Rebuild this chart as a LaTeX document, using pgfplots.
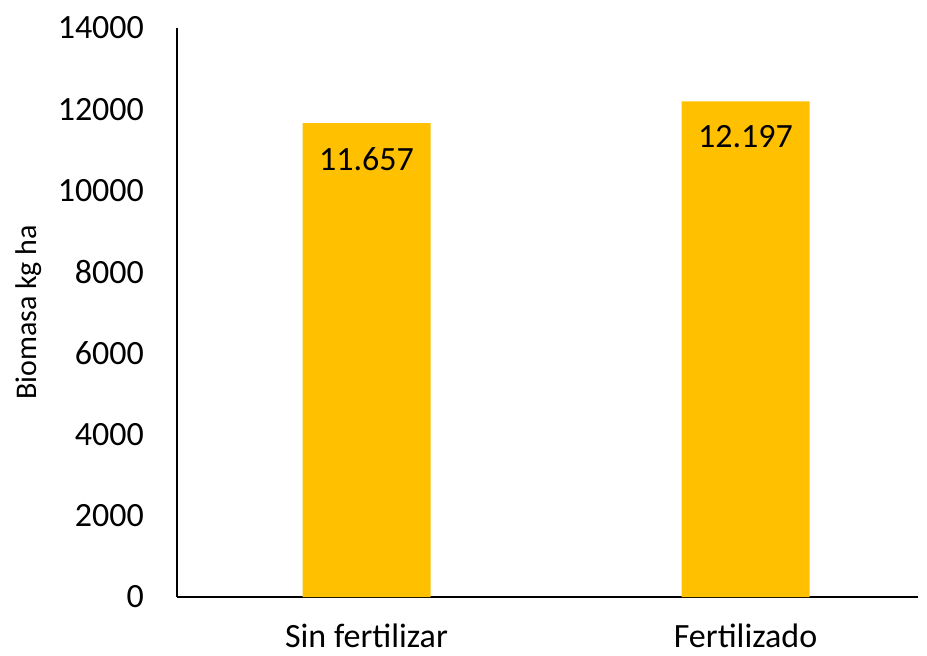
\documentclass[border=0pt]{standalone}
\usepackage{pgfplots}
\pgfplotsset{compat=1.18}
\usepackage{fontspec}
\setmainfont{Carlito}
\definecolor{baryellow}{RGB}{255,192,0}

\begin{document}
\begin{tikzpicture}
\begin{axis}[
  width=370.5pt, height=284.5pt, scale only axis,
  ymin=0, ymax=14000,
  ytick={0,2000,4000,6000,8000,10000,12000,14000},
  xmin=-0.5, xmax=1.455,
  xtick={0,1}, xticklabels={Sin fertilizar,Fertilizado},
  axis x line*=bottom, axis y line*=left,
  axis line style={line width=0.9pt},
  major tick length=0pt,
  tick label style={font=\fontsize{17}{19}\selectfont},
  /pgf/number format/assume math mode=true,
  scaled y ticks=false,
  yticklabel style={/pgf/number format/fixed, /pgf/number format/set thousands separator={}, xshift=-13pt},
  xticklabel style={yshift=-10pt},
  ylabel={Biomasa kg ha},
  ylabel style={font=\fontsize{15}{17}\selectfont, yshift=1pt},
  clip=false,
]
\addplot[ybar, bar width=64pt, fill=baryellow, draw=none,
  point meta=explicit symbolic,
  nodes near coords,
  every node near coord/.style={anchor=north, yshift=-8.5pt, font=\fontsize{17}{19}\selectfont, text=black}]
  coordinates {(0,11657) [11.657] (1,12197) [12.197]};
\end{axis}
\pgfresetboundingbox
\path[use as bounding box] ([shift={(-88.5pt,-29pt)}]current axis.south west)
  rectangle ([shift={(4.5pt,14pt)}]current axis.north east);
\end{tikzpicture}
\end{document}
